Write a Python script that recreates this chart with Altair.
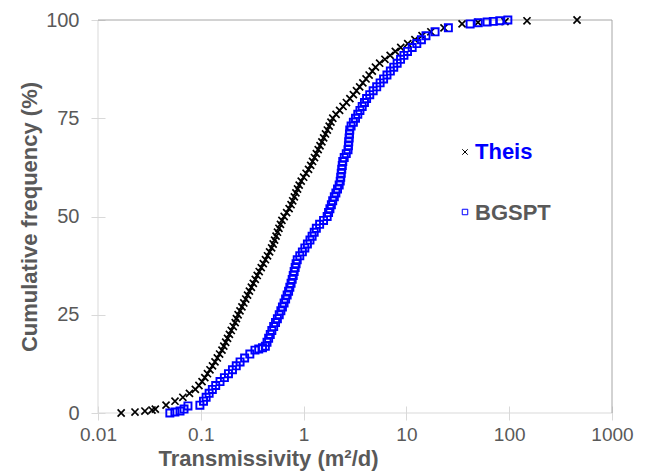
import altair as alt
import pandas as pd

# ---------------- data ----------------
theis_T = [0.0168, 0.0229, 0.0286, 0.0335,
           0.0361, 0.0459, 0.0561, 0.0669, 0.0776, 0.0885, 0.0959, 0.1028, 0.1094, 0.1161,
           0.1228, 0.130, 0.1374, 0.1448, 0.1524, 0.1607, 0.1674, 0.1746, 0.182, 0.1897,
           0.198, 0.207, 0.216, 0.222, 0.2307, 0.2405, 0.2512, 0.262, 0.2735, 0.285,
           0.297, 0.3105, 0.3243, 0.3388, 0.354, 0.370, 0.3873, 0.4055, 0.4256, 0.4457,
           0.4667, 0.4887, 0.5058, 0.5224, 0.5395, 0.557, 0.5754, 0.5957, 0.6152, 0.6471,
           0.684, 0.7228, 0.755, 0.7834, 0.8128, 0.8414, 0.873, 0.9057, 0.948, 1.001,
           1.057, 1.117, 1.172, 1.222, 1.276, 1.330, 1.387, 1.445, 1.506, 1.567,
           1.633, 1.702, 1.774, 1.845, 1.923, 2.07, 2.24, 2.42, 2.61, 2.82,
           3.05, 3.27, 3.51, 3.77, 4.05, 4.34, 4.66, 5.00, 5.49, 6.18,
           6.95, 7.80, 8.81, 10.3, 12.1, 14.2, 17.3, 23.2, 34.8,
           49.7, 91, 149, 457]
theis_F = [0, 0.25, 0.5, 0.75,
           1, 2, 3, 4, 5, 6, 7, 8, 9, 10,
           11, 12, 13, 14, 15, 16, 17, 18, 19, 20,
           21, 22, 23, 24, 25, 26, 27, 28, 29, 30,
           31, 32, 33, 34, 35, 36, 37, 38, 39, 40,
           41, 42, 43, 44, 45, 46, 47, 48, 49, 50,
           51, 52, 53, 54, 55, 56, 57, 58, 59, 60,
           61, 62, 63, 64, 65, 66, 67, 68, 69, 70,
           71, 72, 73, 74, 75, 76, 77, 78, 79, 80,
           81, 82, 83, 84, 85, 86, 87, 88, 89, 90,
           91, 92, 93, 94, 95, 96, 97, 98, 99,
           99.4, 99.6, 99.8, 100]

bgspt_T = [0.050, 0.056, 0.0628, 0.0687, 0.075,
           0.098, 0.1062, 0.1127, 0.1205, 0.1295, 0.1396, 0.1538, 0.1697, 0.1858,
           0.2032, 0.2213, 0.241, 0.2669, 0.2999, 0.3365, 0.366, 0.398,
           0.4246, 0.4406, 0.457, 0.474, 0.491, 0.5117, 0.5333, 0.5559, 0.5794,
           0.601, 0.6223, 0.6457, 0.6683, 0.6918, 0.7145, 0.7345, 0.7551, 0.7745,
           0.7925, 0.8091, 0.8279, 0.8453, 0.867, 0.918, 0.9727, 1.028, 1.089,
           1.153, 1.21, 1.268, 1.33, 1.432, 1.563, 1.695, 1.749, 1.803, 1.862,
           1.919, 1.99, 2.061, 2.138, 2.218, 2.271, 2.297, 2.323, 2.35, 2.377,
           2.404, 2.483, 2.60, 2.704, 2.729, 2.748, 2.773, 2.793, 2.812, 2.897,
           3.048, 3.199, 3.365, 3.532, 3.715, 3.908, 4.10, 4.40, 4.75, 5.14,
           5.55, 6.00, 6.47, 6.98, 7.53, 8.13, 8.77, 9.46, 10.25, 11.38,
           12.62, 14.0, 15.5, 19.0, 25.6, 41.7, 50, 61, 70, 81, 97]
bgspt_F = [0, 0.25, 0.5, 1, 1.8,
           2, 3, 4, 5, 6, 7, 8, 9, 10,
           11, 12, 13, 14, 15, 16, 16.3, 16.6,
           17, 18, 19, 20, 21, 22, 23, 24, 25,
           26, 27, 28, 29, 30, 31, 32, 33, 34,
           35, 36, 37, 38, 39, 40, 41, 42, 43,
           44, 45, 46, 47, 48, 49, 50, 51, 52, 53,
           54, 55, 56, 57, 58, 59, 60, 61, 62, 63,
           64, 65, 66, 67, 68, 69, 70, 71, 72, 73,
           74, 75, 76, 77, 78, 79, 80, 81, 82, 83,
           84, 85, 86, 87, 88, 89, 90, 91, 92, 93,
           94, 95, 96, 97, 98, 99, 99.3, 99.5, 99.65, 99.8, 100]

series_names = ["Theis", "BGSPT"]
x_ticks = [0.01, 0.1, 1, 10, 100, 1000]
y_ticks = [0, 25, 50, 75, 100]

# ---------------- styling ----------------
W, H = 514, 393
FONT = "Liberation Sans"
GREY = "#595959"
AXIS_LINE = "#d9d9d9"
BORDER = "#a6a6a6"
BLUE = "#0000ff"
XSHAPE = "M-1,-1L1,1M-1,1L1,-1"

df_t = pd.DataFrame({"T": theis_T, "F": theis_F})
df_b = pd.DataFrame({"T": bgspt_T, "F": bgspt_F})

xscale = alt.Scale(type="log", domain=[0.01, 1000])
yscale = alt.Scale(domain=[0, 100])

xaxis = alt.Axis(values=x_ticks, format="~g", title="Transmissivity (m²/d)",
                 grid=False, domain=False, offset=-7, tickSize=14,
                 tickColor=AXIS_LINE, labelFont=FONT, labelFontSize=19,
                 labelColor=GREY, labelPadding=5, labelFlush=False,
                 titleFont=FONT, titleFontSize=22, titleFontWeight="bold",
                 titleColor=GREY, titleX=170, titleY=59, titleAlign="center",
                 titleBaseline="alphabetic")
yaxis = alt.Axis(values=y_ticks, title="Cumulative frequency (%)",
                 grid=False, domain=False, offset=-7, tickSize=14,
                 tickColor=AXIS_LINE, labelFont=FONT, labelFontSize=20,
                 labelColor=GREY, labelPadding=12, labelFlush=False,
                 titleFont=FONT, titleFontSize=22, titleFontWeight="bold",
                 titleColor=GREY, titleX=-69, titleY=196.5, titleAlign="center",
                 titleBaseline="alphabetic", titleAngle=270)

theis = alt.Chart(df_t).mark_point(
    shape=XSHAPE, filled=False, color="black", size=50, strokeWidth=1.7, opacity=1
).encode(
    x=alt.X("T:Q", scale=xscale, axis=xaxis),
    y=alt.Y("F:Q", scale=yscale, axis=yaxis),
)

bgspt = alt.Chart(df_b).mark_point(
    shape="square", filled=False, color=BLUE, size=50, strokeWidth=1.9, opacity=1
).encode(
    x=alt.X("T:Q", scale=xscale),
    y=alt.Y("F:Q", scale=yscale),
)

one = alt.Data(values=[{}])

# plot frame
top = alt.Chart(one).mark_rule(color=BORDER, strokeWidth=1).encode(
    x=alt.value(0), x2=alt.value(W), y=alt.value(0))
right = alt.Chart(one).mark_rule(color=BORDER, strokeWidth=1).encode(
    x=alt.value(W), y=alt.value(0), y2=alt.value(H))
left = alt.Chart(one).mark_rule(color=AXIS_LINE, strokeWidth=1).encode(
    x=alt.value(0), y=alt.value(0), y2=alt.value(H))
bottom = alt.Chart(one).mark_rule(color=AXIS_LINE, strokeWidth=1).encode(
    x=alt.value(0), x2=alt.value(W), y=alt.value(H))

# legend inside the plot
leg_m1 = alt.Chart(one).mark_point(
    shape=XSHAPE, filled=False, color="black", size=30, strokeWidth=1, opacity=1
).encode(x=alt.value(367), y=alt.value(132))
leg_m2 = alt.Chart(one).mark_point(
    shape="square", filled=False, color=BLUE, size=30, strokeWidth=1, opacity=1
).encode(x=alt.value(367), y=alt.value(192))
leg_t1 = alt.Chart(one).mark_text(
    text=series_names[0], font=FONT, fontSize=22, fontWeight="bold",
    color=BLUE, align="left", baseline="alphabetic"
).encode(x=alt.value(377), y=alt.value(139))
leg_t2 = alt.Chart(one).mark_text(
    text=series_names[1], font=FONT, fontSize=22, fontWeight="bold",
    color=GREY, align="left", baseline="alphabetic"
).encode(x=alt.value(377), y=alt.value(200))

chart = alt.layer(
    left, bottom, top, right, theis, bgspt, leg_m1, leg_m2, leg_t1, leg_t2
).properties(
    width=W, height=H,
    padding={"left": 98, "top": 20, "right": 35, "bottom": 59},
    autosize=alt.AutoSizeParams(type="none"),
    background="white",
).configure_view(stroke="transparent")

chart.save("out.html", embed_options={"renderer": "svg", "actions": False})
